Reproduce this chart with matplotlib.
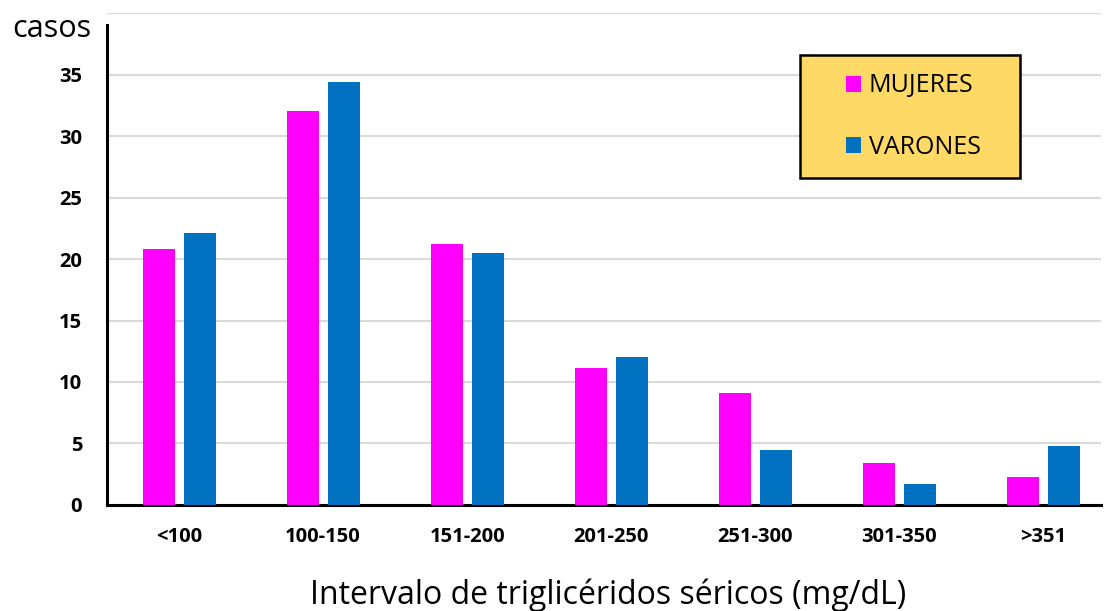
import matplotlib
matplotlib.use("Agg")
import matplotlib.pyplot as plt
from matplotlib.patches import Rectangle
import numpy as np

CATEGORIES = ["<100", "100-150", "151-200", "201-250", "251-300", "301-350", ">351"]
MUJERES = [20.8, 32.0, 21.2, 11.1, 9.1, 3.4, 2.3]
VARONES = [22.1, 34.4, 20.5, 12.0, 4.5, 1.7, 4.8]
Y_TICKS = [0, 5, 10, 15, 20, 25, 30, 35]

COLOR_MUJ = "#FF00FF"
COLOR_VAR = "#0070C0"
LEGEND_BG = "#FFD966"

plt.rcParams["font.family"] = ["Open Sans", "DejaVu Sans"]

W, H = 1104, 611
fig = plt.figure(figsize=(W / 100, H / 100), dpi=100)
ax = fig.add_axes([0.097, 0.1735, 0.900, 0.8052])

x = np.arange(len(CATEGORIES))
w = 0.222
off = 0.142
ax.bar(x - off, MUJERES, w, color=COLOR_MUJ, label="MUJERES", zorder=3)
ax.bar(x + off, VARONES, w, color=COLOR_VAR, label="VARONES", zorder=3)

ax.set_xlim(-0.5, 6.4)
ax.set_ylim(0, 40)
ax.set_yticks(Y_TICKS + [40])
ax.set_yticklabels([str(t) for t in Y_TICKS] + [""])
ax.set_xticks(x)
ax.set_xticklabels(CATEGORIES)
for lab in ax.get_xticklabels() + ax.get_yticklabels():
    lab.set_fontweight("bold")
    lab.set_fontsize(14.5)
ax.tick_params(axis="both", length=0)
ax.tick_params(axis="x", pad=16)
ax.tick_params(axis="y", pad=18)

ax.grid(axis="y", color="#D9D9D9", linewidth=1.5, zorder=0)
ax.set_axisbelow(True)
for s in ["top", "right"]:
    ax.spines[s].set_visible(False)
ax.spines["left"].set_linewidth(2.2)
ax.spines["bottom"].set_linewidth(2.2)
ax.spines["left"].set_bounds(0, 39)

fig.text(0.011, 0.952, "casos", fontsize=22, ha="left", va="center")
fig.text(0.551, 0.026, "Intervalo de triglicéridos séricos (mg/dL)",
         fontsize=23, ha="center", va="center")

# legend box (drawn by hand so its size matches the original)
bx0, bx1, by0, by1 = 800, 1020, 55, 178
ax.add_patch(Rectangle((bx0 / W, 1 - by1 / H), (bx1 - bx0) / W, (by1 - by0) / H,
                       transform=fig.transFigure, facecolor=LEGEND_BG,
                       edgecolor="black", linewidth=1.8, zorder=4, clip_on=False))
leg = ax.legend(loc="center", bbox_to_anchor=((bx0 + bx1) / 2 / W + 0.003,
                                              1 - (by0 + by1) / 2 / H),
                bbox_transform=fig.transFigure, fontsize=18,
                handlelength=0.6, handleheight=0.6, handletextpad=0.3,
                labelspacing=1.45, borderpad=0, borderaxespad=0,
                frameon=False)
leg.set_zorder(5)

fig.savefig("out.png", dpi=100)
